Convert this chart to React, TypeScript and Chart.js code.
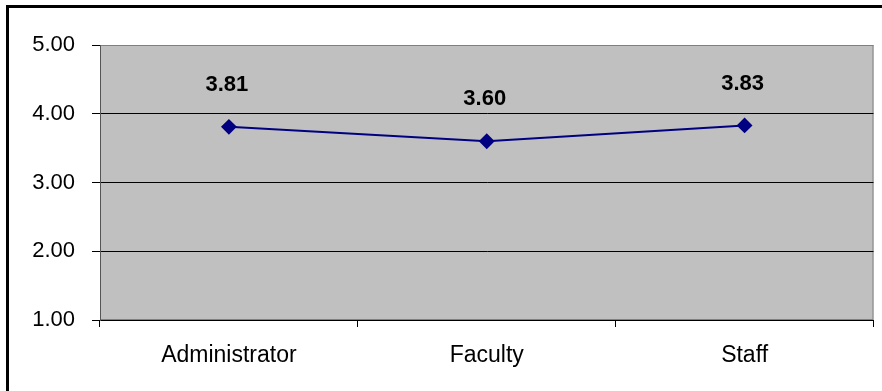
import React, { useEffect, useRef } from "react";
import { Chart, registerables } from "chart.js";

Chart.register(...registerables);

// Mean scores by respondent group
const groups: string[] = ["Administrator", "Faculty", "Staff"];
const meanScores: number[] = [3.81, 3.6, 3.83];
const yTickValues: number[] = [1, 2, 3, 4, 5];

const FONT = "'Liberation Sans', Arial, sans-serif";

// Grey plot background with a thin grey frame
const plotBackground = {
  id: "plotBackground",
  beforeDraw(chart: any) {
    const { ctx, chartArea } = chart;
    ctx.save();
    ctx.fillStyle = "#C0C0C0";
    ctx.fillRect(chartArea.left, chartArea.top, chartArea.right - chartArea.left, chartArea.bottom - chartArea.top);
    ctx.strokeStyle = "#808080";
    ctx.lineWidth = 1;
    ctx.strokeRect(chartArea.left + 0.5, chartArea.top + 0.5, chartArea.right - chartArea.left - 1, chartArea.bottom - chartArea.top - 1);
    ctx.restore();
  },
};

// Black outer frame (top and left edges)
const outerFrame = {
  id: "outerFrame",
  afterDraw(chart: any) {
    const { ctx } = chart;
    ctx.save();
    ctx.fillStyle = "#000000";
    ctx.fillRect(6, 5, 3, 400);
    ctx.fillRect(6, 5, 900, 3);
    ctx.restore();
  },
};

// Bold value labels above each point
const valueLabels = {
  id: "valueLabels",
  afterDatasetsDraw(chart: any) {
    const { ctx } = chart;
    const meta = chart.getDatasetMeta(0);
    ctx.save();
    ctx.font = `bold 22px ${FONT}`;
    ctx.fillStyle = "#000000";
    ctx.textAlign = "center";
    ctx.textBaseline = "middle";
    meta.data.forEach((pt: any, i: number) => {
      ctx.fillText(meanScores[i].toFixed(2), pt.x - 2, pt.y - 42);
    });
    ctx.restore();
  },
};

export default function App() {
  const canvasRef = useRef<HTMLCanvasElement | null>(null);

  useEffect(() => {
    if (!canvasRef.current) return;
    const chart = new Chart(canvasRef.current, {
      type: "line",
      data: {
        labels: groups,
        datasets: [
          {
            data: meanScores,
            borderColor: "#000080",
            backgroundColor: "#000080",
            borderWidth: 2,
            pointStyle: "rectRot",
            pointRadius: 6.5,
            pointBackgroundColor: "#000080",
            pointBorderColor: "#000080",
            tension: 0,
          },
        ],
      },
      options: {
        responsive: false,
        animation: false,
        layout: { padding: { top: 45, right: 6, left: 0, bottom: 0 } },
        plugins: {
          legend: { display: false },
          tooltip: { enabled: false },
        },
        scales: {
          x: {
            offset: true,
            afterFit(scale: any) {
              scale.height = 71;
            },
            grid: {
              offset: true,
              drawOnChartArea: false,
              color: "#000000",
              tickLength: 7,
            },
            border: { color: "#000000", width: 1 },
            ticks: {
              color: "#000000",
              padding: 15,
              font: { family: FONT, size: 23 },
              maxRotation: 0,
            },
          },
          y: {
            min: 1,
            max: 5,
            afterFit(scale: any) {
              scale.width = 100;
            },
            afterBuildTicks(scale: any) {
              scale.ticks = yTickValues.map((v) => ({ value: v }));
            },
            grid: {
              color: (c: any) => (c.tick && c.tick.value === 5 ? "#808080" : "#000000"),
              tickColor: "#000000",
              tickLength: 8,
            },
            border: { color: "#555555", width: 1 },
            ticks: {
              color: "#000000",
              padding: 17,
              font: { family: FONT, size: 22 },
              callback: (v: any) => Number(v).toFixed(2),
            },
          },
        },
      },
      plugins: [plotBackground, valueLabels, outerFrame],
    });
    return () => chart.destroy();
  }, []);

  return (
    <div style={{ position: "fixed", left: 0, top: 0, width: 882, height: 391, background: "#ffffff" }}>
      <canvas ref={canvasRef} width={882} height={391} style={{ display: "block" }} />
    </div>
  );
}
